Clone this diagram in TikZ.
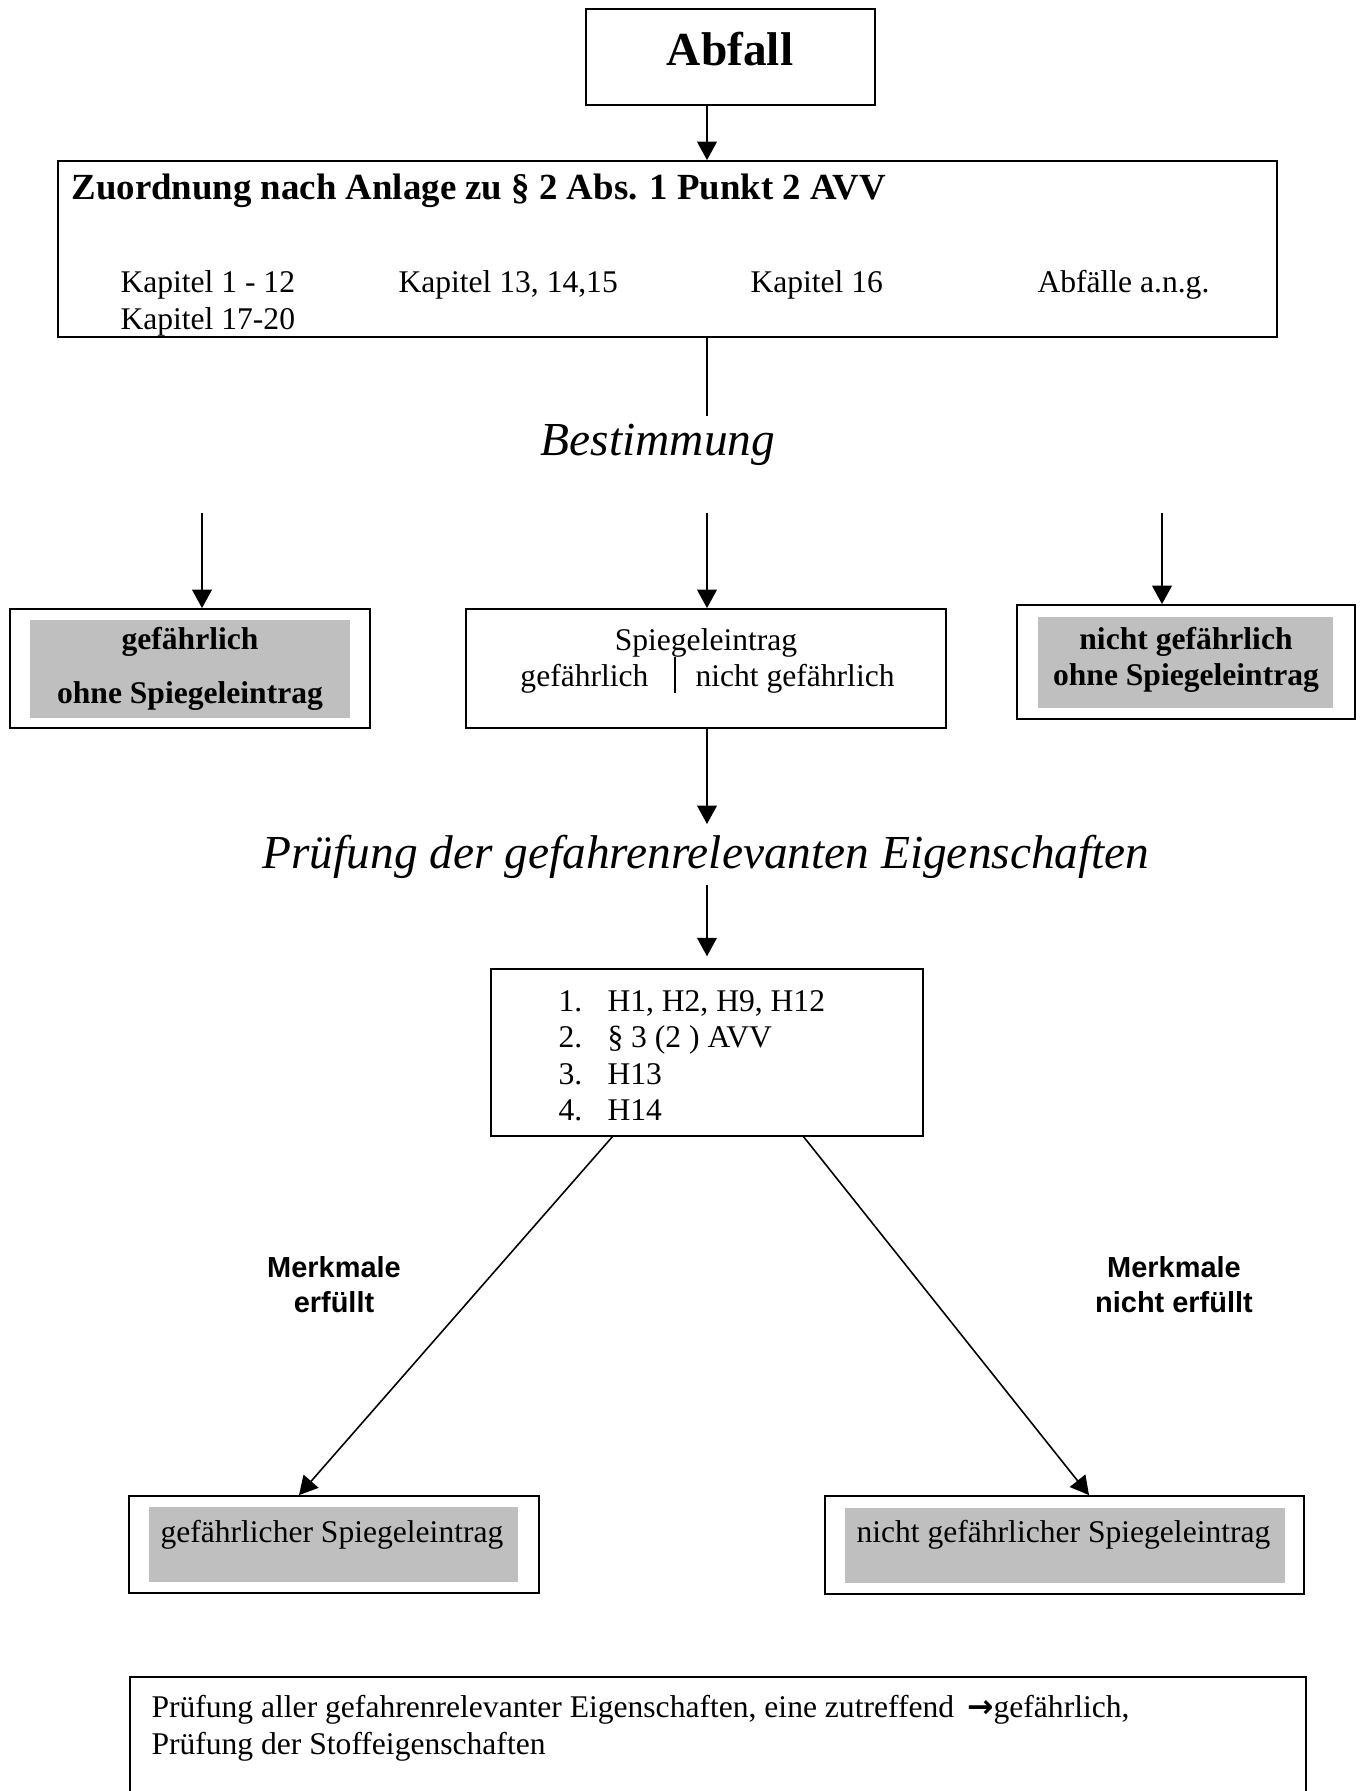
\documentclass[tikz,border=0pt]{standalone}
\usepackage{fontspec}
\setmainfont{Liberation Serif}
\setsansfont{Liberation Sans}
\newfontfamily\pfeilfont{DejaVu Sans}
\usetikzlibrary{arrows.meta,fit}

\begin{document}
\begin{tikzpicture}[x=0.38pt,y=-0.38pt,
        box/.style={draw,line width=0.7pt,inner sep=0pt},
        grau/.style={fill=black!25,inner sep=0pt},
        linie/.style={line width=0.6pt},
        pfeil/.style={line width=0.6pt,-{Triangle[length=7pt,width=7.5pt]}},
        txt/.style={inner sep=0pt,font=\fontsize{12}{14}\selectfont},
        fett/.style={inner sep=0pt,font=\bfseries\fontsize{12}{14}\selectfont},
        titel/.style={inner sep=0pt,font=\itshape\fontsize{18}{22}\selectfont},
        merk/.style={inner sep=0pt,align=center,font=\sffamily\bfseries\fontsize{11}{13.3}\selectfont}]
        \useasboundingbox (0,0) rectangle (1361,1791);
        \coordinate (achse) at (707,0);

        \node[box,fit={(586,9) (875,105)}] (abfall) {};
        \node[anchor=base,inner sep=0pt,font=\bfseries\fontsize{18}{22}\selectfont] (abfalltxt) at (730,65) {Abfall};

        \node[box,fit={(58,161) (1277,337)}] (zuord) {};
        \node[anchor=base west,inner sep=0pt,font=\bfseries\fontsize{14}{17}\selectfont] (zuordtxt) at (71,199) {Zuordnung nach Anlage zu § 2 Abs. 1 Punkt 2 AVV};
        \node[txt,anchor=base west] (kap1) at (120,292) {Kapitel 1 - 12};
        \node[txt,anchor=base west] (kap2) at (120,329) {Kapitel 17-20};
        \node[txt,anchor=base west] (kap3) at (398,292) {Kapitel 13, 14,15};
        \node[txt,anchor=base west] (kap4) at (750,292) {Kapitel 16};
        \node[txt,anchor=base west] (kap5) at (1037,292) {Abfälle a.n.g.};

        \draw[pfeil] (abfall.south -| achse) -- (zuord.north -| achse);
        \coordinate (bestoben) at (707,416);
        \draw[linie] (zuord.south -| achse) -- (bestoben);
        \node[titel,anchor=base] (bestimmung) at (658,455) {Bestimmung};

        \coordinate (slinks) at (202,513);
        \coordinate (smitte) at (707,513);
        \coordinate (srechts) at (1162,513);

        \node[box,fit={(10,609) (370,728)}] (links) {};
        \node[grau,fit={(30,620) (350,718)}] (linksgrau) {};
        \node[fett,anchor=base] (links1) at (190,649) {gefährlich};
        \node[fett,anchor=base] (links2) at (190,703) {ohne Spiegeleintrag};

        \node[box,fit={(466,609) (946,728)}] (mitte) {};
        \node[txt,anchor=base] (mitte1) at (706,650) {Spiegeleintrag};
        \node[txt,anchor=base east] (mitte2) at (649,686) {gefährlich};
        \node[txt,anchor=base west] (mitte3) at (695,686) {nicht gefährlich};
        \draw[linie] (675,657) -- (675,693);

        \node[box,fit={(1017,605) (1355,719)}] (rechts) {};
        \node[grau,fit={(1038,617) (1333,708)}] (rechtsgrau) {};
        \node[fett,anchor=base] (rechts1) at (1186,649) {nicht gefährlich};
        \node[fett,anchor=base] (rechts2) at (1186,685) {ohne Spiegeleintrag};

        \draw[pfeil] (slinks) -- (links.north -| slinks);
        \draw[pfeil] (smitte) -- (mitte.north -| smitte);
        \draw[pfeil] (srechts) -- (rechts.north -| srechts);

        \coordinate (pruefoben) at (707,824);
        \draw[pfeil] (mitte.south -| achse) -- (pruefoben);
        \node[titel,anchor=base] (pruefung) at (706,868) {Prüfung der gefahrenrelevanten Eigenschaften};
        \coordinate (pruefunten) at (707,885);

        \node[box,fit={(491,969) (923,1136)}] (liste) {};
        \draw[pfeil,shorten >=4.5pt] (pruefunten) -- (liste.north -| achse);
        \foreach \nr/\eintrag [count=\i from 0] in {1./{H1, H2, H9, H12},2./{§ 3 (2 ) AVV},3./H13,4./H14} {
            \node[txt,anchor=base west] (nr\i) at (558,1011+36.5*\i) {\nr};
            \node[txt,anchor=base west] (eintrag\i) at (607,1011+36.5*\i) {\eintrag};
        }

        \node[merk,anchor=north] (merklinks) at (334,1256) {Merkmale\\erfüllt};
        \node[merk,anchor=north] (merkrechts) at (1174,1256) {Merkmale\\nicht erfüllt};

        \node[box,fit={(129,1496) (539,1593)}] (gefsp) {};
        \node[grau,fit={(149,1507) (518,1582)}] (gefspgrau) {};
        \node[txt,anchor=base west] (gefsptxt) at (160,1542) {gefährlicher Spiegeleintrag};

        \node[box,fit={(825,1496) (1304,1594)}] (nichtsp) {};
        \node[grau,fit={(845,1508) (1285,1583)}] (nichtspgrau) {};
        \node[txt,anchor=base west] (nichtsptxt) at (856,1542) {nicht gefährlicher Spiegeleintrag};

        \coordinate (ablinks) at (613,1136);
        \coordinate (abrechts) at (803,1136);
        \coordinate (anlinks) at (299,0);
        \coordinate (anrechts) at (1089,0);
        \draw[pfeil] (ablinks) -- (gefsp.north -| anlinks);
        \draw[pfeil] (abrechts) -- (nichtsp.north -| anrechts);

        \node[box,fit={(130,1677) (1306,1830)}] (hinweis) {};
        \node[txt,anchor=base west] (hinweis1) at (151,1717) {Prüfung aller gefahrenrelevanter Eigenschaften, eine zutreffend \,{\pfeilfont\bfseries →}gefährlich,};
        \node[txt,anchor=base west] (hinweis2) at (151,1754) {Prüfung der Stoffeigenschaften};
    \end{tikzpicture}
\end{document}
